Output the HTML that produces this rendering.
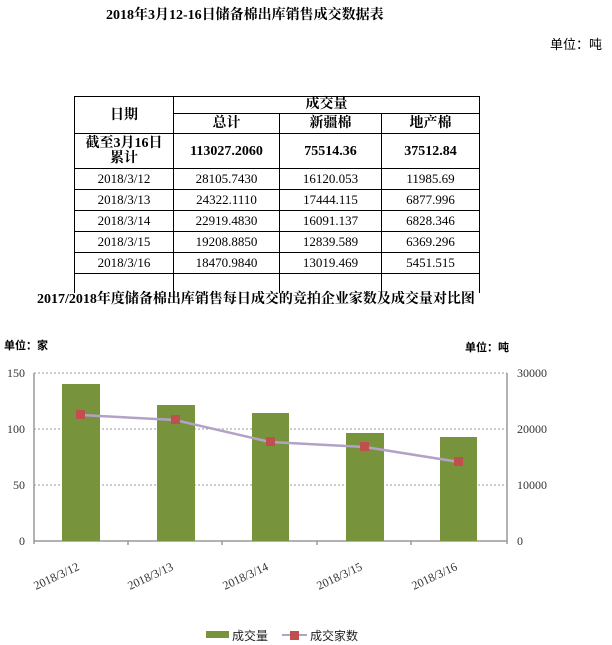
<!DOCTYPE html><html><head><meta charset="utf-8"><style>
body{margin:0;width:612px;height:645px;background:#fff;position:relative;overflow:hidden;font-family:"Liberation Serif","Noto Serif CJK SC",serif;}
.a{position:absolute;white-space:nowrap}
table{position:absolute;left:74px;top:96px;border-collapse:collapse;width:406px}
td{border:1.5px solid #000;text-align:center;font-size:13px;padding:0;height:19px;line-height:15px}
.b{font-weight:bold;font-size:14px}
tr.d td{height:20px;line-height:14px}
</style></head><body>
<div class="a" style="left:106px;top:4px;font-size:14px;font-weight:bold">2018年3月12-16日储备棉出库销售成交数据表</div>
<div class="a" style="left:550px;top:34px;font-size:13px;font-family:'Liberation Sans','Noto Sans CJK SC',sans-serif">单位：吨</div>
<table>
<tr><td rowspan="2" class="b" style="width:98px">日期</td><td colspan="3" class="b" style="height:16px;line-height:14px">成交量</td></tr>
<tr><td class="b" style="width:105px;height:17px;line-height:14px">总计</td><td class="b" style="width:101px">新疆棉</td><td class="b">地产棉</td></tr>
<tr><td class="b" style="height:34px;line-height:15px">截至3月16日<br>累计</td><td class="b">113027.2060</td><td class="b">75514.36</td><td class="b">37512.84</td></tr>
<tr class="d"><td>2018/3/12</td><td>28105.7430</td><td>16120.053</td><td>11985.69</td></tr>
<tr class="d"><td>2018/3/13</td><td>24322.1110</td><td>17444.115</td><td>6877.996</td></tr>
<tr class="d"><td>2018/3/14</td><td>22919.4830</td><td>16091.137</td><td>6828.346</td></tr>
<tr class="d"><td>2018/3/15</td><td>19208.8850</td><td>12839.589</td><td>6369.296</td></tr>
<tr class="d"><td>2018/3/16</td><td>18470.9840</td><td>13019.469</td><td>5451.515</td></tr>
<tr><td style="height:5px;border-bottom:none"></td><td style="border-bottom:none"></td><td style="border-bottom:none"></td><td style="border-bottom:none"></td></tr>
</table>
<div class="a" style="left:37px;top:288px;font-size:14px;font-weight:bold">2017/2018年度储备棉出库销售每日成交的竞拍企业家数及成交量对比图</div>
<svg class="a" style="left:0;top:0" width="612" height="645">
<g font-family="Liberation Sans,Noto Sans CJK SC,sans-serif" font-size="11" font-weight="bold" fill="#000">
<text x="4" y="349">单位：家</text><text x="465" y="351">单位：吨</text></g>
<g stroke="#999" stroke-dasharray="2,2" stroke-width="1">
<line x1="34" y1="373" x2="507" y2="373"/><line x1="34" y1="429" x2="507" y2="429"/><line x1="34" y1="485" x2="507" y2="485"/></g>
<g stroke="#999" stroke-width="1.5"><line x1="34" y1="541" x2="507" y2="541"/><line x1="34" y1="373" x2="34" y2="544"/><line x1="507" y1="373" x2="507" y2="544"/>
<line x1="128" y1="541" x2="128" y2="545"/><line x1="222" y1="541" x2="222" y2="545"/><line x1="317" y1="541" x2="317" y2="545"/><line x1="411" y1="541" x2="411" y2="545"/></g>
<g fill="#77933c">
<rect x="62" y="384" width="38" height="157"/><rect x="157" y="405" width="38" height="136"/><rect x="252" y="413" width="37" height="128"/><rect x="346" y="433" width="38" height="108"/><rect x="440" y="437" width="37" height="104"/></g>
<polyline points="81,415 175,420 270,442 365,447 459,462" fill="none" stroke="#b3a2c7" stroke-width="2.5"/>
<g fill="#c0504d"><rect x="76" y="410" width="9" height="9"/><rect x="171" y="415" width="9" height="9"/><rect x="266" y="437" width="9" height="9"/><rect x="360" y="442" width="9" height="9"/><rect x="454" y="457" width="9" height="9"/></g>
<g font-family="Liberation Serif,serif" font-size="12" fill="#333">
<text x="25" y="377" text-anchor="end">150</text><text x="25" y="433" text-anchor="end">100</text><text x="25" y="489" text-anchor="end">50</text><text x="25" y="545" text-anchor="end">0</text>
<text x="517" y="377">30000</text><text x="517" y="433">20000</text><text x="517" y="489">10000</text><text x="517" y="545">0</text>
<text transform="translate(36,590) rotate(-25)">2018/3/12</text><text transform="translate(130,590) rotate(-25)">2018/3/13</text><text transform="translate(225,590) rotate(-25)">2018/3/14</text><text transform="translate(319,590) rotate(-25)">2018/3/15</text><text transform="translate(414,590) rotate(-25)">2018/3/16</text></g>
<rect x="206" y="631" width="23" height="7" fill="#77933c"/>
<line x1="282" y1="635" x2="307" y2="635" stroke="#b3a2c7" stroke-width="2"/><rect x="290" y="631" width="9" height="9" fill="#c0504d"/>
<g font-family="Liberation Sans,Noto Sans CJK SC,sans-serif" font-size="12" fill="#222"><text x="232" y="640">成交量</text><text x="310" y="640">成交家数</text></g>
</svg>
</body></html>
